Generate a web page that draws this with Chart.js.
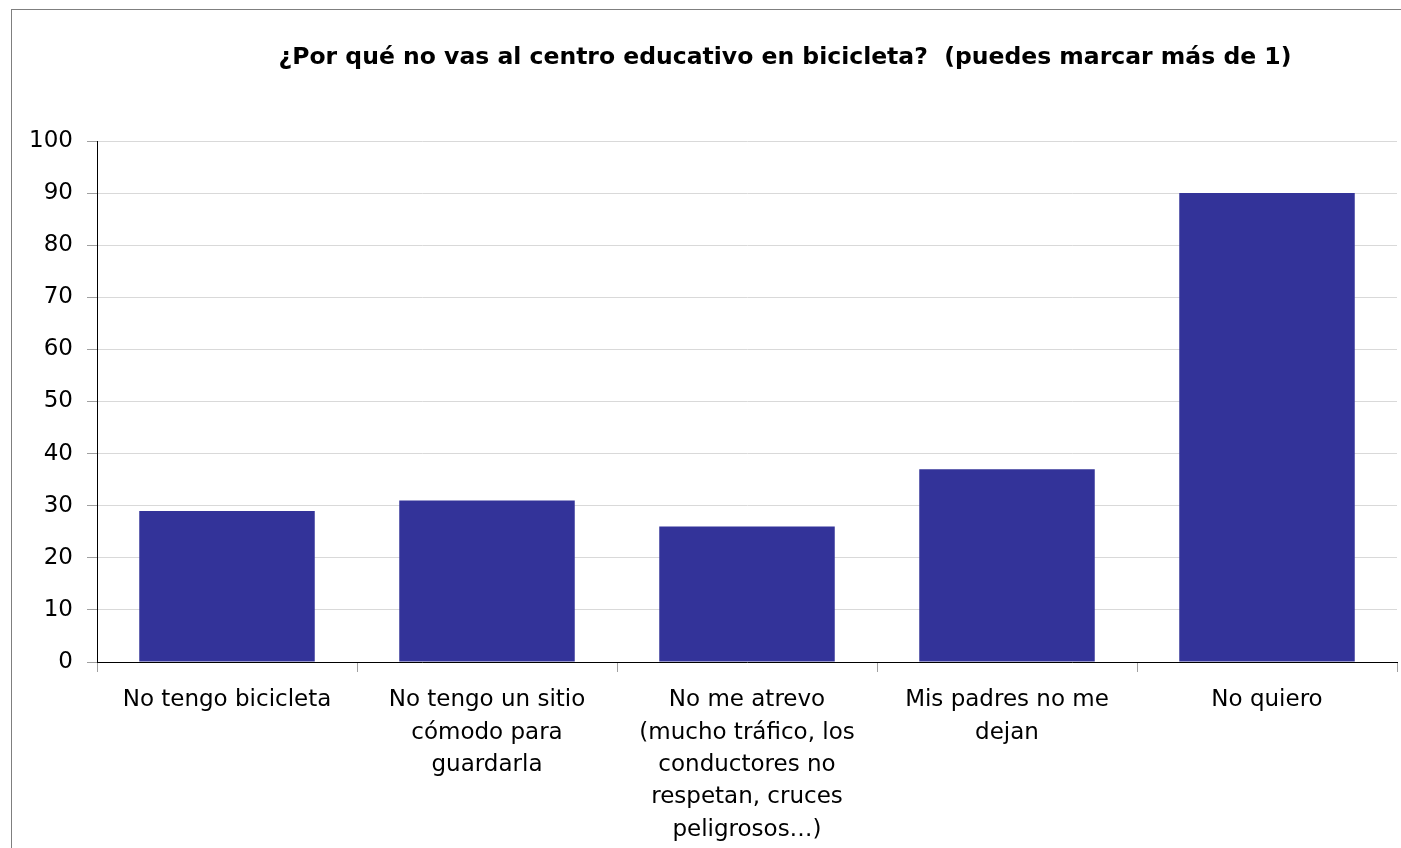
<!DOCTYPE html>
<html>
  <head>
    <title>Bicicleta</title>
    <meta charset='utf-8'>
    <style>
      html, body { margin: 0px; padding: 0px; background: #ffffff; }
      body { width: 1401px; height: 848px; position: relative; overflow: hidden; }
      .frame { position: absolute; left: 11px; top: 9px; width: 1400px; height: 900px; border-left: 1px solid #7f7f7f; border-top: 1px solid #7f7f7f; }
      .box { position: absolute; left: 0px; top: 0px; width: 1401px; height: 848px; }
    </style>
    <script src='https://cdn.jsdelivr.net/npm/chart.js'></script>
  </head>
  <body>
    <div class='frame'></div>
    <div class='box'><canvas id='myChart' width='1401' height='848'></canvas></div>
    <script>
      var chartTitle = '¿Por qué no vas al centro educativo en bicicleta?  (puedes marcar más de 1)';
      var categories = [
        'No tengo bicicleta',
        ['No tengo un sitio', 'cómodo para', 'guardarla'],
        ['No me atrevo', '(mucho tráfico, los', 'conductores no', 'respetan, cruces', 'peligrosos…)'],
        ['Mis padres no me', 'dejan'],
        'No quiero'
      ];
      var values = [29, 31, 26, 37, 90];
      var yTicks = [0, 10, 20, 30, 40, 50, 60, 70, 80, 90, 100];

      var fontName = "'DejaVu Sans', sans-serif";

      // title is drawn by hand so it can sit off-centre like the original
      var titlePlugin = {
        id: 'sideTitle',
        afterDraw: function(chart) {
          var ctx = chart.ctx;
          ctx.save();
          ctx.font = 'bold 23.5px ' + fontName;
          ctx.fillStyle = '#000000';
          ctx.textAlign = 'center';
          ctx.textBaseline = 'middle';
          ctx.fillText(chartTitle, 785, 58);
          ctx.restore();
        }
      };

      draw();
      function draw(){
        var ctx = document.getElementById('myChart').getContext('2d');
        myChart = new Chart(ctx, {
          type: 'bar',
          data: {
            labels: categories,
            datasets: [{
              label: 'Respuestas',
              data: values,
              backgroundColor: '#333399',
              borderColor: '#333399',
              borderWidth: 0,
              categoryPercentage: 1.0,
              barPercentage: 0.675
            }]
          },
          options: {
            responsive: false,
            animation: false,
            layout: { padding: { top: 141, right: 4, left: 0, bottom: 0 } },
            plugins: {
              legend: { display: false },
              title: { display: false },
              tooltip: { enabled: false }
            },
            scales: {
              x: {
                offset: true,
                grid: { drawOnChartArea: false, drawTicks: true, tickLength: 10, tickColor: '#a0a0a0', offset: true },
                border: { display: true, color: '#000000', width: 1 },
                ticks: { color: '#000000', font: { family: fontName, size: 23, lineHeight: 1.41 }, maxRotation: 0, autoSkip: false, padding: 12 },
                afterFit: function(scale) { scale.height = 186; }
              },
              y: {
                min: 0,
                max: 100,
                afterBuildTicks: function(scale) {
                  scale.ticks = yTicks.map(function(v) { return { value: v }; });
                },
                grid: { color: '#d9d9d9', tickColor: '#a0a0a0', tickLength: 10, lineWidth: 1 },
                border: { display: true, color: '#000000', width: 1 },
                ticks: { color: '#000000', font: { family: fontName, size: 23 }, padding: 14 },
                afterFit: function(scale) { scale.width = 97; }
              }
            }
          },
          plugins: [titlePlugin]
        });
      };
    </script>
  </body>
</html>
